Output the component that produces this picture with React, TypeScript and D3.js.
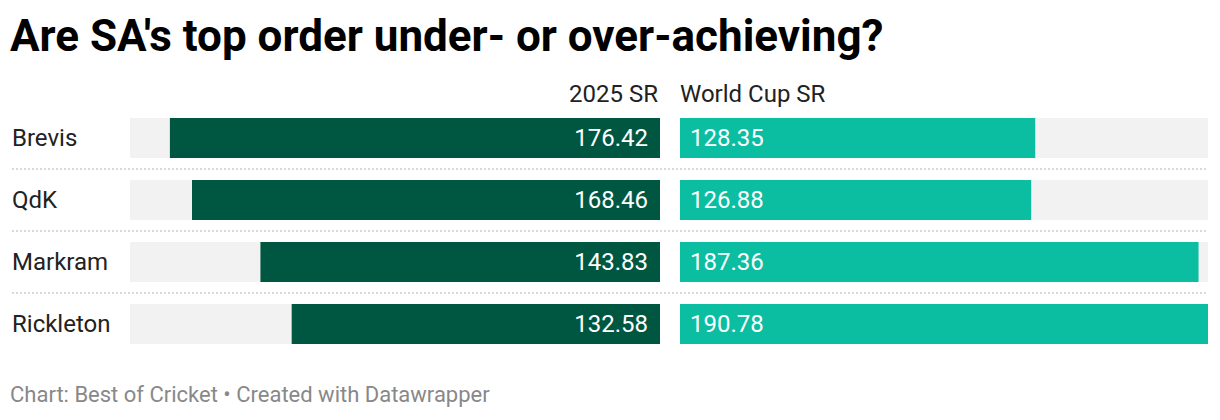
import React from "react";
import * as d3 from "d3";

const players = ["Brevis", "QdK", "Markram", "Rickleton"];
const sr2025 = [176.42, 168.46, 143.83, 132.58];
const srWorldCup = [128.35, 126.88, 187.36, 190.78];
const columnHeaders = ["2025 SR", "World Cup SR"];

const W = 1220;
const H = 420;
const FONT = "Roboto, 'Noto Sans', sans-serif";

export default function App() {
  const maxV = d3.max([...sr2025, ...srWorldCup]) as number;
  const leftX0 = 130, leftX1 = 660;
  const rightX0 = 680, rightX1 = 1208;
  const xl = d3.scaleLinear().domain([0, maxV]).range([leftX1, leftX0]);
  const xr = d3.scaleLinear().domain([0, maxV]).range([rightX0, rightX1]);
  const y = d3.scaleBand().domain(players).range([118, 344 + 22]).paddingInner(0).paddingOuter(0);
  const barH = 40;

  return (
    <svg width={W} height={H} style={{ position: "absolute", left: 0, top: 0, background: "#fff" }} fontFamily={FONT}>
      <text x={10} y={51} fontSize={44} fontWeight={700} fill="#000">Are SA's top order under- or over-achieving?</text>
      <text x={leftX1 - 2} y={102} textAnchor="end" fontSize={24} fill="#222">{columnHeaders[0]}</text>
      <text x={rightX0} y={102} textAnchor="start" fontSize={24} fill="#222">{columnHeaders[1]}</text>
      {players.map((p, i) => {
        const y0 = y(p) as number;
        return (
          <g key={p}>
            {i > 0 && (
              <line x1={12} x2={1208} y1={y0 - 11} y2={y0 - 11} stroke="#d9d9d9" strokeWidth={2} strokeDasharray="2,2" />
            )}
            <text x={12} y={y0 + barH / 2} dy="0.35em" fontSize={24} fill="#222">{p}</text>
            <rect x={leftX0} y={y0} width={leftX1 - leftX0} height={barH} fill="#f2f2f2" />
            <rect x={xl(sr2025[i])} y={y0} width={leftX1 - xl(sr2025[i])} height={barH} fill="#005741" />
            <text x={leftX1 - 12} y={y0 + barH / 2} dy="0.33em" textAnchor="end" fontSize={24} fill="#fff">{sr2025[i].toFixed(2)}</text>
            <rect x={rightX0} y={y0} width={rightX1 - rightX0} height={barH} fill="#f2f2f2" />
            <rect x={rightX0} y={y0} width={xr(srWorldCup[i]) - rightX0} height={barH} fill="#0bbda1" />
            <text x={rightX0 + 10} y={y0 + barH / 2} dy="0.33em" textAnchor="start" fontSize={24} fill="#fff">{srWorldCup[i].toFixed(2)}</text>
          </g>
        );
      })}
      <text x={10} y={402} fontSize={22} fill="#888">Chart: Best of Cricket • Created with Datawrapper</text>
    </svg>
  );
}
